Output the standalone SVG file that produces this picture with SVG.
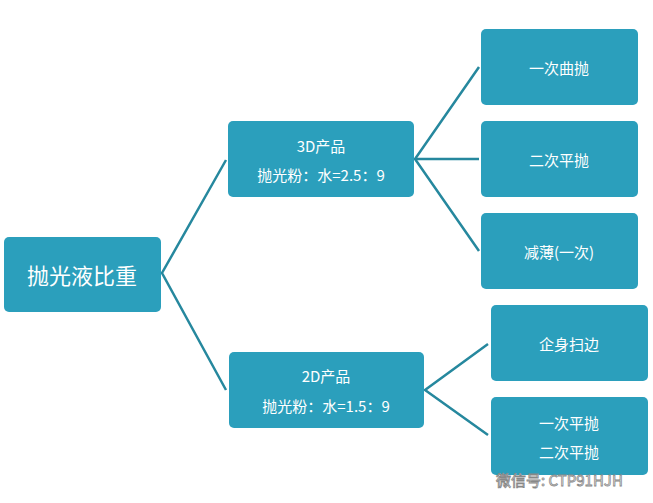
<svg xmlns="http://www.w3.org/2000/svg" width="653" height="503" viewBox="0 0 653 503">
<style>
.n{fill:#2b9fbc}
.t{fill:#fff;font-family:"Noto Sans CJK SC","Noto Sans",sans-serif;font-size:15px;text-anchor:middle;dominant-baseline:central}
.c{stroke:#26889e;stroke-width:2.5;fill:none}
</style>
<rect width="653" height="503" fill="#fff"/>
<g id="connectors">
<polyline class="c" points="226,160 162,273 226,390"/>
<polyline class="c" points="479,67 415,159 479,251"/>
<line class="c" x1="415" y1="159" x2="479" y2="159"/>
<polyline class="c" points="488,344 425,390 488,435"/>
</g>
<g id="root"><rect class="n" x="4" y="237" width="157" height="75" rx="5"/><text class="t" x="82" y="274" style="font-size:22px">抛光液比重</text></g>
<g id="p3d"><rect class="n" x="228" y="121" width="186" height="76" rx="5"/><text class="t" x="321" y="145">3D产品</text><text class="t" x="321" y="174">抛光粉：水=2.5：9</text></g>
<g id="p2d"><rect class="n" x="229" y="352" width="195" height="76" rx="5"/><text class="t" x="326" y="375">2D产品</text><text class="t" x="326" y="405">抛光粉：水=1.5：9</text></g>
<g id="l1"><rect class="n" x="481" y="29" width="157" height="76" rx="5"/><text class="t" x="559" y="67">一次曲抛</text></g>
<g id="l2"><rect class="n" x="481" y="121" width="157" height="76" rx="5"/><text class="t" x="559" y="159">二次平抛</text></g>
<g id="l3"><rect class="n" x="481" y="213" width="157" height="76" rx="5"/><text class="t" x="559" y="251">减薄(一次)</text></g>
<g id="l4"><rect class="n" x="491" y="305" width="157" height="76" rx="5"/><text class="t" x="569" y="343">企身扫边</text></g>
<g id="l5"><rect class="n" x="491" y="397" width="157" height="78" rx="5"/><text class="t" x="569" y="422">一次平抛</text><text class="t" x="569" y="451">二次平抛</text></g>
<text x="496" y="479" style="font-family:'Noto Sans CJK SC',sans-serif;font-size:15px;fill:#fff;stroke:#888;stroke-width:0.8;dominant-baseline:central">微信号: CTP91HJH</text>
</svg>
